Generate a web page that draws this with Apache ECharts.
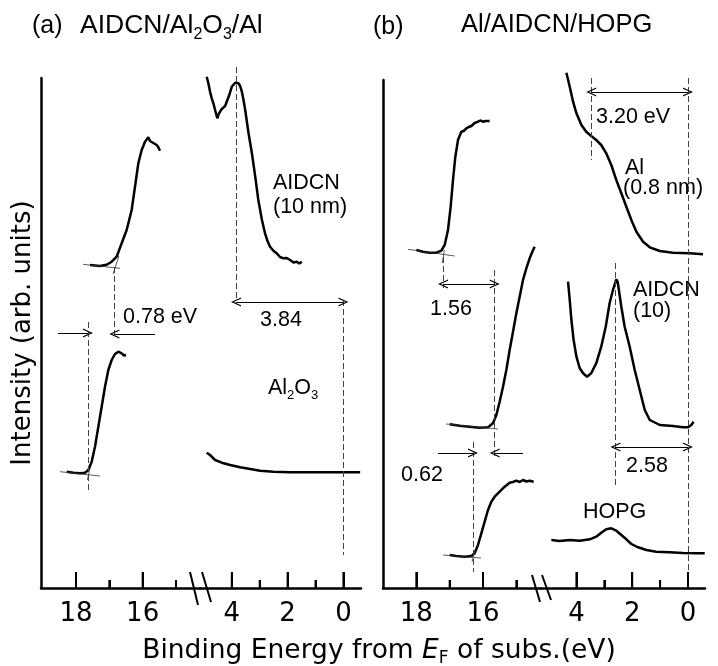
<!DOCTYPE html>
<html>
<head>
<meta charset="utf-8">
<script src="https://cdn.jsdelivr.net/npm/echarts@6/dist/echarts.min.js"></script>
<style>
  html, body { margin: 0; padding: 0; background: #fff; }
  #chart { width: 718px; height: 666px; }
</style>
</head>
<body>
<div id="chart"></div>
<script>
// ---- panel (a) AIDCN/Al2O3/Al : binding energy (eV) and intensity (arb.)
const aIdcnCutEv = [17.58, 17.43, 17.28, 17.08, 16.93, 16.78, 16.63, 16.48, 16.33, 16.23, 16.13, 16.03, 15.98, 15.93, 15.88, 15.83, 15.78, 15.73, 15.68, 15.63, 15.58, 15.53, 15.48];
const aIdcnCutI  = [323, 322.5, 322, 323.3, 326.3, 331.3, 344.7, 358, 378, 401.3, 424.7, 438, 442, 446.3, 448, 450.7, 447, 448.7, 445, 446.3, 443, 440.7, 437.3];

const aIdcnVbEv = [4.90, 4.84, 4.78, 4.72, 4.66, 4.60, 4.52, 4.47, 4.42, 4.36, 4.30, 4.24, 4.18, 4.09, 4.00, 3.94, 3.88, 3.82, 3.76, 3.70, 3.64, 3.58, 3.52, 3.40, 3.28, 3.16, 3.05, 2.92, 2.81, 2.72, 2.63, 2.50, 2.39, 2.27, 2.15, 2.03, 1.91, 1.79, 1.67, 1.58, 1.49];
const aIdcnVbI  = [511.3, 504.7, 496.3, 489.7, 484.7, 478, 469.7, 474, 476.3, 479, 478.7, 482, 483, 493, 501.3, 503, 505.3, 506, 504.7, 502, 496.3, 488, 478, 454.7, 434.7, 411.3, 388, 368, 354.7, 347, 341.3, 337, 334.7, 331, 329.7, 330, 328, 325.5, 326.3, 324.5, 326.3];

const aOxCutEv = [18.28, 18.08, 17.88, 17.73, 17.63, 17.53, 17.43, 17.33, 17.23, 17.13, 17.03, 16.93, 16.83, 16.73, 16.63, 16.56, 16.50];
const aOxCutI  = [116.3, 115.3, 114.7, 115.3, 118, 126.3, 141.3, 161.3, 181.3, 201.3, 218, 228, 234, 236.3, 234.7, 232.5, 233];

const aOxVbEv = [4.90, 4.78, 4.60, 4.36, 4.06, 3.70, 3.34, 2.99, 2.51, 1.91, 1.31, 0.72, 0.12, -0.60];
const aOxVbI  = [135.3, 133, 128, 125.3, 123, 120.7, 119, 117.3, 116.3, 115.7, 115.7, 115.7, 115.7, 115.7];

// ---- panel (b) Al/AIDCN/HOPG
const bAlCutEv = [18.00, 17.80, 17.60, 17.40, 17.25, 17.15, 17.05, 16.97, 16.90, 16.83, 16.75, 16.65, 16.58, 16.50, 16.43, 16.35, 16.25, 16.15, 16.08, 16.00, 15.92, 15.80];
const bAlCutI  = [338, 336.3, 335.3, 335.3, 337.3, 343, 358, 381.3, 408, 431.3, 448, 456.3, 457, 459.7, 461, 462, 465, 466.3, 467.5, 466.3, 467, 467];

const bIdcnCutEv = [17.00, 16.70, 16.40, 16.10, 15.85, 15.70, 15.60, 15.50, 15.40, 15.30, 15.20, 15.10, 15.00, 14.90, 14.80, 14.70, 14.60, 14.52, 14.45];
const bIdcnCutI  = [163.7, 162.3, 161.3, 160.3, 160.7, 164.7, 173, 186.3, 201.3, 218, 238, 256.3, 274.7, 291.3, 308, 319.7, 329.7, 336.3, 341.3];

const bHopgCutEv = [17.00, 16.80, 16.55, 16.35, 16.25, 16.15, 16.05, 15.95, 15.85, 15.75, 15.65, 15.50, 15.35, 15.20, 15.10, 15.00, 14.90, 14.80, 14.70, 14.60, 14.48];
const bHopgCutI  = [33, 32, 31.3, 32, 34.7, 43, 54.7, 66.3, 78, 86.3, 91.3, 96.3, 101.3, 105.3, 106, 107.3, 106, 108, 106.5, 107.3, 106.3];

const bAlVbEv = [4.36, 4.24, 4.12, 4.00, 3.82, 3.65, 3.47, 3.29, 3.11, 2.93, 2.75, 2.57, 2.39, 2.21, 2.03, 1.85, 1.61, 1.37, 1.01, 0.54, -0.06, -0.54];
const bAlVbI  = [515.3, 501.3, 486.3, 474.7, 463, 456.3, 452, 448, 443, 434.7, 423, 408, 394.7, 381.3, 368, 356.3, 346.3, 340.7, 337, 335.3, 334.7, 333.7];

const bIdcnVbEv = [4.30, 4.24, 4.18, 4.10, 4.00, 3.88, 3.76, 3.62, 3.47, 3.29, 3.11, 2.95, 2.81, 2.69, 2.62, 2.57, 2.52, 2.47, 2.39, 2.27, 2.09, 1.91, 1.73, 1.55, 1.37, 1.01, 0.54, 0.18, 0.00, -0.12, -0.20];
const bIdcnVbI  = [306.3, 288, 268, 248, 231.3, 219.7, 214.7, 211.3, 214.7, 224.7, 241.3, 261.3, 284.7, 298, 296, 308.7, 306, 304.7, 281.3, 261.3, 241.3, 218, 198, 178, 168, 163, 162, 160.7, 160.7, 163, 166.3];

const bHopgVbEv = [4.90, 4.60, 4.24, 3.88, 3.52, 3.29, 3.11, 2.93, 2.75, 2.57, 2.39, 2.21, 2.03, 1.79, 1.49, 1.14, 0.66, 0.18, -0.30, -0.60];
const bHopgVbI  = [48, 47, 48, 47.3, 48.7, 51.3, 55.3, 58.7, 59.7, 57.3, 53, 48.7, 44, 40.7, 38, 36.3, 35.7, 35, 34.7, 34.7];

// ticks of the broken energy axis
const cutoffLabels = [16, 18];
const cutoffMinor = [15, 17];
const valenceLabels = [0, 2, 4];
const valenceMinor = [1, 3];

const zip = (xs, ys) => xs.map((x, i) => [x, ys[i]]);

const chart = echarts.init(document.getElementById('chart'));

const CHEV = 'path://M0,10L5,0L10,10L8.6,10L5,2.8L1.4,10Z';
const DASH = { type: [6, 3], width: 1, color: '#444' };
const ARROW = { type: 'solid', width: 1, color: '#000' };
const THIN = { type: 'solid', width: 0.8, color: '#333' };

const dash = (x, y1, y2) => [{ coord: [x, y1], symbol: 'none', lineStyle: DASH }, { coord: [x, y2], symbol: 'none', lineStyle: DASH }];
const arrow = (x1, x2, y) => [{ coord: [x1, y], symbol: 'none', lineStyle: ARROW }, { coord: [x2, y], symbol: CHEV, symbolSize: [9, 10], lineStyle: ARROW }];
const dbl = (x1, x2, y) => [{ coord: [x1, y], symbol: CHEV, symbolSize: [9, 10], lineStyle: ARROW }, { coord: [x2, y], symbol: CHEV, symbolSize: [9, 10], lineStyle: ARROW }];
const thin = (x1, y1, x2, y2) => [{ coord: [x1, y1], symbol: 'none', lineStyle: THIN }, { coord: [x2, y2], symbol: 'none', lineStyle: THIN }];

// left grids carry the visible intensity axis; right ones reach higher so marks above it stay in range
const grids = [
  { left: 41, top: 78, width: 159, height: 510 },
  { left: 200, top: 60, width: 161, height: 528 },
  { left: 383, top: 80, width: 158, height: 508 },
  { left: 541, top: 60, width: 164, height: 528 }
];
const ranges = [[14.28, 19.05], [-0.63, 5.14], [14.26, 19.0], [-0.61, 5.27]];

const xAxes = [];
grids.forEach((g, i) => {
  const cutoff = i % 2 === 0;
  xAxes.push({
    type: 'value', gridIndex: i, position: 'bottom', min: ranges[i][0], max: ranges[i][1], inverse: true,
    axisLine: { show: true, onZero: false, lineStyle: { color: '#000', width: 2.5 } },
    axisTick: { show: true, inside: true, length: 16, customValues: cutoff ? cutoffLabels : valenceLabels, lineStyle: { color: '#000', width: 2 } },
    axisLabel: { show: true, customValues: cutoff ? cutoffLabels : valenceLabels, margin: 13, fontSize: 26, color: '#000', fontFamily: 'DejaVu Sans' },
    splitLine: { show: false }
  });
  xAxes.push({
    type: 'value', gridIndex: i, position: 'bottom', min: ranges[i][0], max: ranges[i][1], inverse: true,
    axisLine: { show: false, onZero: false },
    axisTick: { show: true, inside: true, length: 8, customValues: cutoff ? cutoffMinor : valenceMinor, lineStyle: { color: '#000', width: 2 } },
    axisLabel: { show: false },
    splitLine: { show: false }
  });
});

const yAxes = grids.map((g, i) => ({
  type: 'value', gridIndex: i, min: 0, max: g.height,
  axisLine: { show: i % 2 === 0, onZero: false, lineStyle: { color: '#000', width: 2.5 } },
  axisTick: { show: false }, axisLabel: { show: false }, splitLine: { show: false },
  name: i === 0 ? 'Intensity (arb. units)' : '',
  nameLocation: 'middle', nameRotate: 90, nameGap: 5,
  nameTextStyle: { fontSize: 26, fontFamily: 'DejaVu Sans', color: '#000' }
}));

function curve(grid, ev, inten, marks) {
  return {
    type: 'line', xAxisIndex: grid * 2, yAxisIndex: grid,
    data: zip(ev, inten), showSymbol: false,
    lineStyle: { color: '#000', width: 2.5 },
    markLine: marks ? { silent: true, animation: false, label: { show: false }, data: marks } : undefined
  };
}

const series = [
  curve(0, aIdcnCutEv, aIdcnCutI, [
    dash(16.85, 321, 253), dash(17.64, 266, 96),
    arrow(18.54, 17.64, 255), arrow(15.63, 16.85, 254),
    thin(17.79, 323.7, 16.68, 319.7), thin(16.89, 314, 16.71, 332),
    thin(18.48, 116.3, 17.28, 112), thin(17.66, 108, 17.58, 120)
  ]),
  curve(0, aOxCutEv, aOxCutI),
  curve(1, aIdcnVbEv, aIdcnVbI, [
    dash(3.85, 521, 288), dash(0, 288, 33), dbl(3.85, 0, 286)
  ]),
  curve(1, aOxVbEv, aOxVbI),
  curve(2, bAlCutEv, bAlCutI, [
    dash(17.2, 331, 300), dash(15.65, 318, 131), dbl(17.2, 15.65, 304),
    dash(16.3, 146, 16), arrow(17.35, 16.3, 135), arrow(14.8, 15.65, 135),
    thin(18.25, 338.7, 16.85, 332), thin(17.22, 325, 17.16, 338),
    thin(17.11, 164, 15.55, 159),
    thin(17.2, 33, 16.06, 30), thin(16.33, 26, 16.24, 38)
  ]),
  curve(2, bIdcnCutEv, bIdcnCutI),
  curve(2, bHopgCutEv, bHopgCutI),
  curve(3, bAlVbEv, bAlVbI, [
    dash(3.47, 510, 428), dash(0, 510, 16), dbl(3.47, 0, 496),
    dash(2.60, 325, 103), dbl(2.60, 0, 141)
  ]),
  curve(3, bIdcnVbEv, bIdcnVbI),
  curve(3, bHopgVbEv, bHopgVbI)
];

const TXT = 'Liberation Sans';
const label = (x, y, text, size, extra) => ({
  type: 'text', x: x, y: y, silent: true,
  style: Object.assign({ text: text, fontSize: size, fontFamily: TXT, fill: '#000', textAlign: 'left', textVerticalAlign: 'middle' }, extra || {})
});
const subRich = (size) => ({
  n: { fontSize: size, lineHeight: size + 6, fontFamily: TXT, color: '#000' },
  s: { fontSize: Math.round(size * 0.62), lineHeight: Math.round(size * 0.62), verticalAlign: 'bottom', fontFamily: TXT, color: '#000' }
});

const graphic = [
  label(32, 26, '(a)', 25),
  label(80, 26, '{n|AIDCN/Al}{s|2}{n|O}{s|3}{n|/Al}', 26.5, { rich: subRich(26.5) }),
  label(373, 27, '(b)', 25),
  label(461, 25, 'Al/AIDCN/HOPG', 25.5),
  label(273, 183, 'AIDCN', 21.5),
  label(273, 207, '(10 nm)', 21.5),
  label(123, 317, '0.78 eV', 21.5),
  label(260, 320, '3.84', 21.5),
  label(268, 388, '{n|Al}{s|2}{n|O}{s|3}', 21.5, { rich: subRich(21.5) }),
  label(596, 117, '3.20 eV', 21.5),
  label(625, 168, 'Al', 21.5),
  label(623, 188, '(0.8 nm)', 21.5),
  label(633, 290, 'AIDCN', 21.5),
  label(633, 311, '(10)', 21.5),
  label(430, 309, '1.56', 21.5),
  label(401, 475, '0.62', 21.5),
  label(626, 466, '2.58', 21.5),
  label(583, 512, 'HOPG', 21.5),
  {
    type: 'text', x: 379, y: 651, silent: true,
    style: {
      text: '{n|Binding Energy from }{i|E}{s|F}{n| of subs.(eV)}',
      textAlign: 'center', textVerticalAlign: 'middle',
      rich: {
        n: { fontSize: 26.5, lineHeight: 32, fontFamily: 'DejaVu Sans', color: '#000' },
        i: { fontSize: 26.5, lineHeight: 32, fontFamily: 'DejaVu Sans', fontStyle: 'italic', color: '#000' },
        s: { fontSize: 17, lineHeight: 17, verticalAlign: 'bottom', fontFamily: 'DejaVu Sans', color: '#000' }
      }
    }
  },
  // axis break marks
  { type: 'line', silent: true, shape: { x1: 190, y1: 572, x2: 198, y2: 605 }, style: { stroke: '#000', lineWidth: 2 } },
  { type: 'line', silent: true, shape: { x1: 202, y1: 572, x2: 211, y2: 602 }, style: { stroke: '#000', lineWidth: 2 } },
  { type: 'line', silent: true, shape: { x1: 532, y1: 575, x2: 540, y2: 602 }, style: { stroke: '#000', lineWidth: 2 } },
  { type: 'line', silent: true, shape: { x1: 542, y1: 575, x2: 551, y2: 600 }, style: { stroke: '#000', lineWidth: 2 } }
];

chart.setOption({
  animation: false,
  backgroundColor: '#fff',
  grid: grids,
  xAxis: xAxes,
  yAxis: yAxes,
  series: series,
  graphic: graphic
});

// the inward energy ticks did not show up in the full chart, so they are added again
// as graphic lines, placed through each axis' own scale
const tickLines = [];
grids.forEach((g, i) => {
  const cutoff = i % 2 === 0;
  const base = chart.convertToPixel({ yAxisIndex: i }, 0);
  const add = (vals, len) => vals.forEach(v => {
    const px = chart.convertToPixel({ xAxisIndex: i * 2 }, v);
    tickLines.push({ type: 'line', silent: true, z: 10, shape: { x1: px, y1: base, x2: px, y2: base - len }, style: { stroke: '#000', lineWidth: 2 } });
  });
  add(cutoff ? cutoffLabels : valenceLabels, 16);
  add(cutoff ? cutoffMinor : valenceMinor, 8);
});
chart.setOption({ graphic: graphic.concat(tickLines) });
</script>
</body>
</html>
